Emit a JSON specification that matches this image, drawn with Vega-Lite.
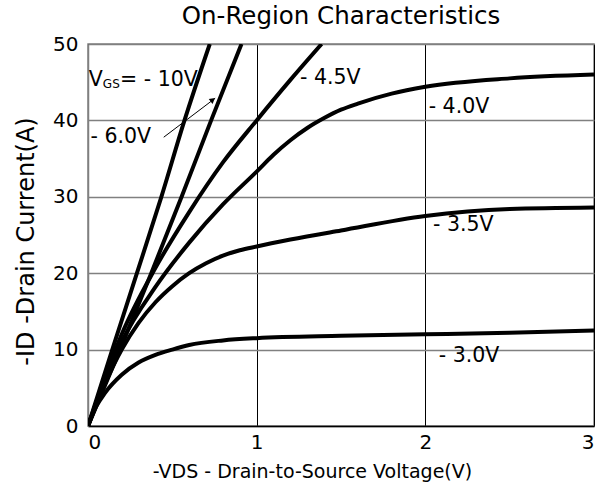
{
  "$schema": "https://vega.github.io/schema/vega-lite/v6.json",
  "width": 506,
  "height": 382,
  "autosize": "none",
  "padding": {"left": 88, "top": 44, "right": 6, "bottom": 59},
  "background": "white",
  "config": {
    "font": "DejaVu Sans",
    "view": {"stroke": "#808080", "strokeWidth": 1.5}
  },
  "title": {
    "text": "On-Region Characteristics",
    "fontSize": 24.5,
    "fontWeight": "normal",
    "font": "DejaVu Sans",
    "color": "black",
    "anchor": "middle",
    "offset": 5
  },
  "datasets": {
    "curves": [
      {"vgs": "-10V", "vds": 0, "id": 0}, {"vgs": "-10V", "vds": 0.144, "id": 10}, {"vgs": "-10V", "vds": 0.29, "id": 20}, {"vgs": "-10V", "vds": 0.435, "id": 30}, {"vgs": "-10V", "vds": 0.572, "id": 40}, {"vgs": "-10V", "vds": 0.722, "id": 50},
      {"vgs": "-6.0V", "vds": 0, "id": 0}, {"vgs": "-6.0V", "vds": 0.19, "id": 10}, {"vgs": "-6.0V", "vds": 0.375, "id": 20}, {"vgs": "-6.0V", "vds": 0.555, "id": 30}, {"vgs": "-6.0V", "vds": 0.73, "id": 40}, {"vgs": "-6.0V", "vds": 0.91, "id": 50},
      {"vgs": "-4.5V", "vds": 0, "id": 0}, {"vgs": "-4.5V", "vds": 0.1, "id": 6.3}, {"vgs": "-4.5V", "vds": 0.2, "id": 12}, {"vgs": "-4.5V", "vds": 0.4, "id": 20.7}, {"vgs": "-4.5V", "vds": 0.6, "id": 28}, {"vgs": "-4.5V", "vds": 0.8, "id": 34.5}, {"vgs": "-4.5V", "vds": 1.0, "id": 40}, {"vgs": "-4.5V", "vds": 1.2, "id": 45.3}, {"vgs": "-4.5V", "vds": 1.385, "id": 50},
      {"vgs": "-4.0V", "vds": 0, "id": 0}, {"vgs": "-4.0V", "vds": 0.1, "id": 5.8}, {"vgs": "-4.0V", "vds": 0.2, "id": 11}, {"vgs": "-4.0V", "vds": 0.4, "id": 18.2}, {"vgs": "-4.0V", "vds": 0.6, "id": 24}, {"vgs": "-4.0V", "vds": 0.8, "id": 29}, {"vgs": "-4.0V", "vds": 1.0, "id": 33.3}, {"vgs": "-4.0V", "vds": 1.1, "id": 35.5}, {"vgs": "-4.0V", "vds": 1.2, "id": 37.4}, {"vgs": "-4.0V", "vds": 1.3, "id": 39.0}, {"vgs": "-4.0V", "vds": 1.4, "id": 40.3}, {"vgs": "-4.0V", "vds": 1.5, "id": 41.4}, {"vgs": "-4.0V", "vds": 1.6, "id": 42.2}, {"vgs": "-4.0V", "vds": 1.8, "id": 43.5}, {"vgs": "-4.0V", "vds": 2.0, "id": 44.4}, {"vgs": "-4.0V", "vds": 2.5, "id": 45.5}, {"vgs": "-4.0V", "vds": 3.0, "id": 46.0},
      {"vgs": "-3.5V", "vds": 0, "id": 0}, {"vgs": "-3.5V", "vds": 0.1, "id": 5.5}, {"vgs": "-3.5V", "vds": 0.2, "id": 10}, {"vgs": "-3.5V", "vds": 0.3, "id": 13.5}, {"vgs": "-3.5V", "vds": 0.4, "id": 16.2}, {"vgs": "-3.5V", "vds": 0.5, "id": 18.3}, {"vgs": "-3.5V", "vds": 0.6, "id": 20.0}, {"vgs": "-3.5V", "vds": 0.7, "id": 21.3}, {"vgs": "-3.5V", "vds": 0.8, "id": 22.3}, {"vgs": "-3.5V", "vds": 0.9, "id": 23.0}, {"vgs": "-3.5V", "vds": 1.0, "id": 23.5}, {"vgs": "-3.5V", "vds": 1.2, "id": 24.4}, {"vgs": "-3.5V", "vds": 1.5, "id": 25.6}, {"vgs": "-3.5V", "vds": 2.0, "id": 27.5}, {"vgs": "-3.5V", "vds": 2.5, "id": 28.4}, {"vgs": "-3.5V", "vds": 3.0, "id": 28.6},
      {"vgs": "-3.0V", "vds": 0, "id": 0}, {"vgs": "-3.0V", "vds": 0.05, "id": 2.6}, {"vgs": "-3.0V", "vds": 0.1, "id": 4.3}, {"vgs": "-3.0V", "vds": 0.2, "id": 6.7}, {"vgs": "-3.0V", "vds": 0.3, "id": 8.3}, {"vgs": "-3.0V", "vds": 0.4, "id": 9.3}, {"vgs": "-3.0V", "vds": 0.5, "id": 10.0}, {"vgs": "-3.0V", "vds": 0.6, "id": 10.6}, {"vgs": "-3.0V", "vds": 0.8, "id": 11.2}, {"vgs": "-3.0V", "vds": 1.0, "id": 11.5}, {"vgs": "-3.0V", "vds": 1.5, "id": 11.8}, {"vgs": "-3.0V", "vds": 2.0, "id": 12.0}, {"vgs": "-3.0V", "vds": 2.5, "id": 12.2}, {"vgs": "-3.0V", "vds": 3.0, "id": 12.5}
    ],
    "labels": [
      {"label": "V", "vds": 0.005, "id": 45.3, "size": 20.5},
      {"label": "GS", "vds": 0.088, "id": 44.7, "size": 12},
      {"label": "= - 10V", "vds": 0.19, "id": 45.3, "size": 20.5},
      {"label": "- 6.0V", "vds": 0.015, "id": 37.8, "size": 20.5},
      {"label": "- 4.5V", "vds": 1.257, "id": 45.6, "size": 20.5},
      {"label": "- 4.0V", "vds": 2.02, "id": 41.7, "size": 20.5},
      {"label": "- 3.5V", "vds": 2.046, "id": 26.3, "size": 20.5},
      {"label": "- 3.0V", "vds": 2.08, "id": 9.2, "size": 20.5}
    ],
    "arrow": [
      {"vds": 0.449, "id": 37.8},
      {"vds": 0.754, "id": 42.9}
    ],
    "arrowhead": [
      {"vds": 0.74, "id": 42.7}
    ]
  },
  "layer": [
    {
      "data": {"name": "curves"},
      "mark": {"type": "line", "color": "black", "strokeWidth": 4, "interpolate": "monotone", "clip": true},
      "encoding": {
        "x": {
          "field": "vds", "type": "quantitative",
          "scale": {"domain": [0, 3], "nice": false},
          "axis": {
            "values": [0, 1, 2, 3], "format": "d",
            "title": "-VDS - Drain-to-Source Voltage(V)",
            "titleFontSize": 19, "titleFontWeight": "normal", "titleColor": "black", "titlePadding": 10,
            "titleX": 224, "titleAlign": "center",
            "labelFontSize": 20, "labelColor": "black", "labelPadding": 6,
            "ticks": false, "domainColor": "black", "domainWidth": 1.5,
            "grid": true, "gridColor": "black", "gridWidth": 1, "gridOpacity": 1
          }
        },
        "y": {
          "field": "id", "type": "quantitative",
          "scale": {"domain": [0, 50], "nice": false},
          "axis": {
            "values": [0, 10, 20, 30, 40, 50],
            "title": "-ID -Drain Current(A)",
            "titleFontSize": 24, "titleFontWeight": "normal", "titleColor": "black", "titlePadding": 14,
            "titleY": 197, "titleAlign": "center",
            "labelFontSize": 20, "labelColor": "black", "labelPadding": 10,
            "ticks": false, "domainColor": "#808080", "domainWidth": 1.5,
            "grid": true, "gridColor": "#808080", "gridWidth": 1.5, "gridOpacity": 1
          }
        },
        "detail": {"field": "vgs"}
      }
    },
    {
      "data": {"name": "arrow"},
      "mark": {"type": "line", "color": "black", "strokeWidth": 1},
      "encoding": {
        "x": {"field": "vds", "type": "quantitative"},
        "y": {"field": "id", "type": "quantitative"}
      }
    },
    {
      "data": {"name": "arrowhead"},
      "mark": {"type": "point", "shape": "triangle-up", "filled": true, "color": "black", "size": 40, "angle": 53, "opacity": 1},
      "encoding": {
        "x": {"field": "vds", "type": "quantitative"},
        "y": {"field": "id", "type": "quantitative"}
      }
    },
    {
      "data": {"name": "labels"},
      "mark": {"type": "text", "align": "left", "baseline": "middle", "color": "black", "font": "DejaVu Sans"},
      "encoding": {
        "x": {"field": "vds", "type": "quantitative"},
        "y": {"field": "id", "type": "quantitative"},
        "text": {"field": "label"},
        "size": {"field": "size", "type": "quantitative", "scale": null, "legend": null}
      }
    }
  ]
}
